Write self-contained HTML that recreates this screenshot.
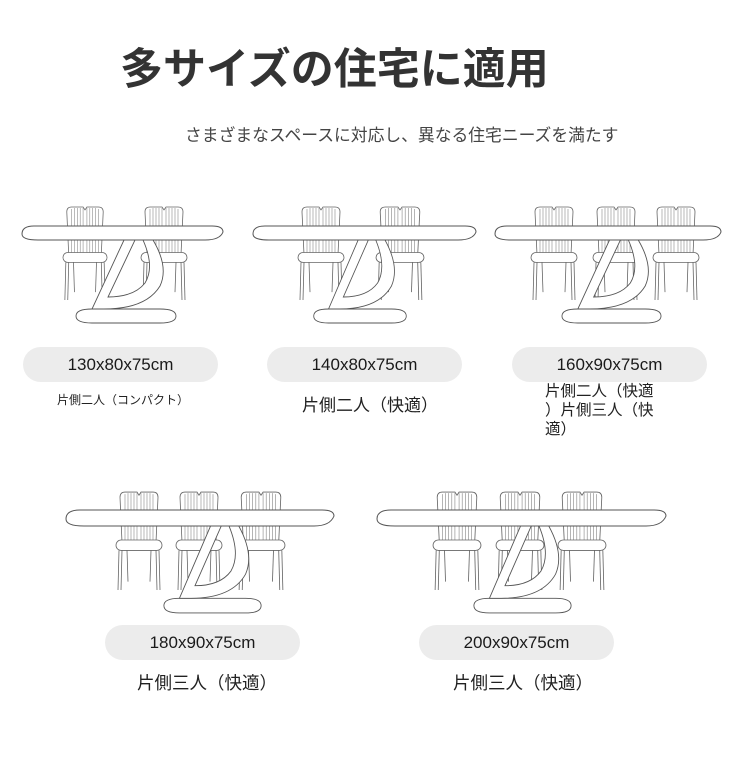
<!DOCTYPE html>
<html><head><meta charset="utf-8"><style>
html,body{margin:0;padding:0;background:#fff;}
body{width:750px;height:767px;position:relative;overflow:hidden;font-family:"Liberation Sans","Noto Sans CJK JP",sans-serif;color:#222;}
.t{position:absolute;white-space:nowrap;}
.pill{position:absolute;background:#ececec;border-radius:18px;height:35px;line-height:35px;text-align:center;font-size:17px;color:#1a1a1a;width:195px;}
</style></head><body>
<svg width="750" height="767" style="position:absolute;left:0;top:0">
<defs>
<symbol id="ch" viewBox="0 0 48 96" preserveAspectRatio="none">
<g fill="#fff" stroke="#666" stroke-width="0.8">
<path d="M7,50 L5,7 Q5,2 10,2 L22,2 L24,5 L26,2 L38,2 Q43,2 43,7 L41,50 Z"/>
<g stroke="#888" stroke-width="0.6">
<line x1="10" y1="4" x2="10" y2="48"/><line x1="13" y1="3" x2="13" y2="48"/><line x1="16" y1="3" x2="16" y2="48"/><line x1="19" y1="3" x2="19" y2="48"/><line x1="22" y1="3" x2="22" y2="48"/><line x1="26" y1="3" x2="26" y2="48"/><line x1="29" y1="3" x2="29" y2="48"/><line x1="32" y1="3" x2="32" y2="48"/><line x1="35" y1="3" x2="35" y2="48"/><line x1="38" y1="4" x2="38" y2="48"/>
</g>
<rect x="1" y="48" width="46" height="10" rx="5"/>
<line x1="4" y1="58" x2="3" y2="96"/><line x1="7" y1="58" x2="6" y2="96"/>
<line x1="44" y1="58" x2="45" y2="96"/><line x1="41" y1="58" x2="42" y2="96"/>
<line x1="12" y1="58" x2="13" y2="88"/><line x1="36" y1="58" x2="35" y2="88"/>
</g>
</symbol>
<symbol id="bs" viewBox="0 0 108 84" preserveAspectRatio="none">
<g fill="#fff" stroke="#555" stroke-width="0.9">
<path d="M4,76 Q4,69 20,69 L88,69 Q104,69 104,76 Q104,83 88,83 L20,83 Q4,83 4,76 Z"/>
<path d="M52,0 L63,0 L36,57 Q62,57 73,43 Q83,27 71,0 L81,0 Q97,27 88,46 Q74,69 32,69 L20,69 Z"/>
</g>
</symbol>
</defs>
<!-- T1 -->
<use href="#ch" x="62" y="205" width="46" height="95"/>
<use href="#ch" x="140" y="205" width="48" height="95"/>
<path d="M22,234 Q22,226 34,226 L212,226 Q223,226 223,232 Q220,240 205,240 L38,240 Q22,240 22,234 Z" fill="#fff" stroke="#555"/>
<use href="#bs" x="72" y="240" width="108" height="84"/>
<!-- T2 -->
<use href="#ch" x="297" y="205" width="48" height="95"/>
<use href="#ch" x="375" y="205" width="50" height="95"/>
<path d="M253,234 Q253,226 265,226 L465,226 Q476,226 476,232 Q473,240 458,240 L269,240 Q253,240 253,234 Z" fill="#fff" stroke="#555"/>
<use href="#bs" x="310" y="240" width="100" height="84"/>
<!-- T3 -->
<use href="#ch" x="530" y="205" width="48" height="95"/>
<use href="#ch" x="592" y="205" width="48" height="95"/>
<use href="#ch" x="652" y="205" width="48" height="95"/>
<path d="M495,234 Q495,226 507,226 L710,226 Q721,226 721,232 Q718,240 703,240 L511,240 Q495,240 495,234 Z" fill="#fff" stroke="#555"/>
<use href="#bs" x="558" y="240" width="107" height="84"/>
<!-- T4 -->
<use href="#ch" x="115" y="490" width="48" height="100"/>
<use href="#ch" x="175" y="490" width="48" height="100"/>
<use href="#ch" x="236" y="490" width="50" height="100"/>
<path d="M66,519 Q66,510 80,510 L322,510 Q334,510 334,516 Q330,526 314,526 L84,526 Q66,526 66,519 Z" fill="#fff" stroke="#555"/>
<use href="#bs" x="160" y="526" width="105" height="88"/>
<!-- T5 -->
<use href="#ch" x="432" y="490" width="50" height="100"/>
<use href="#ch" x="495" y="490" width="50" height="100"/>
<use href="#ch" x="557" y="490" width="50" height="100"/>
<path d="M377,519 Q377,510 391,510 L654,510 Q666,510 666,516 Q662,526 646,526 L395,526 Q377,526 377,519 Z" fill="#fff" stroke="#555"/>
<use href="#bs" x="470" y="526" width="105" height="88"/>
</svg>

<div class="t" style="left:120px;top:35px;font-size:43px;font-weight:bold;color:#333;letter-spacing:0px;">多サイズの住宅に適用</div>
<div class="t" style="left:185px;top:122px;font-size:16.8px;color:#444;">さまざまなスペースに対応し、異なる住宅ニーズを満たす</div>

<div class="pill" style="left:23px;top:347px;">130x80x75cm</div>
<div class="pill" style="left:267px;top:347px;">140x80x75cm</div>
<div class="pill" style="left:512px;top:347px;">160x90x75cm</div>
<div class="pill" style="left:105px;top:625px;">180x90x75cm</div>
<div class="pill" style="left:419px;top:625px;">200x90x75cm</div>

<div class="t" style="left:57px;top:391px;font-size:12px;">片側二人（コンパクト）</div>
<div class="t" style="left:302px;top:391px;font-size:17px;">片側二人（快適）</div>
<div class="t" style="left:545px;top:382px;font-size:15.5px;line-height:19px;white-space:normal;width:135px;">片側二人（快適<br>）片側三人（快<br>適）</div>
<div class="t" style="left:137px;top:670px;font-size:17.5px;">片側三人（快適）</div>
<div class="t" style="left:453px;top:670px;font-size:17.5px;">片側三人（快適）</div>
</body></html>
